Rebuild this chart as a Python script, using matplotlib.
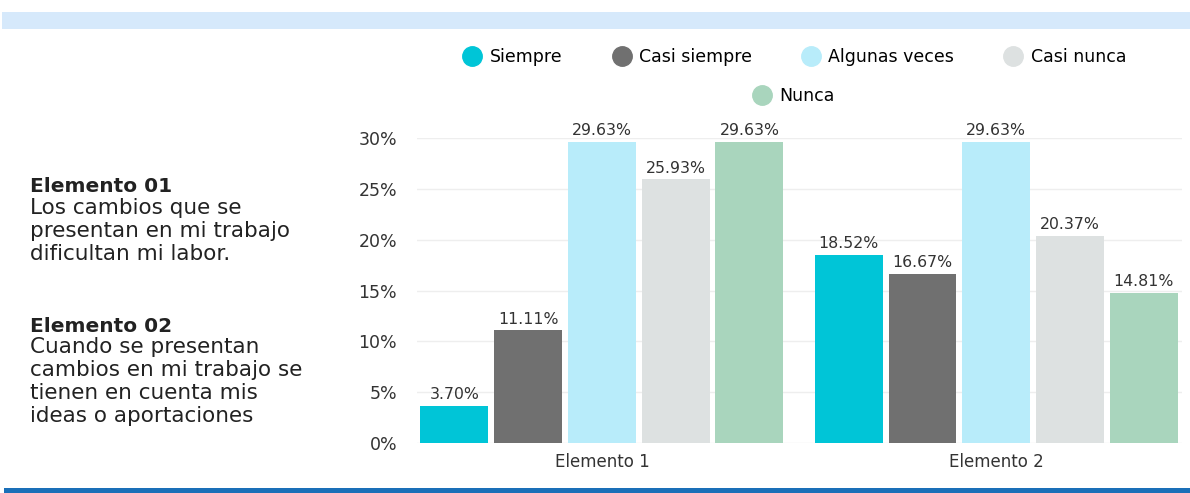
import matplotlib.pyplot as plt
import numpy as np
from matplotlib.lines import Line2D
from matplotlib.patches import Rectangle

# Datos
grupos = ["Elemento 1", "Elemento 2"]
series = ["Siempre", "Casi siempre", "Algunas veces", "Casi nunca", "Nunca"]
siempre = [3.70, 18.52]
casi_siempre = [11.11, 16.67]
algunas_veces = [29.63, 29.63]
casi_nunca = [25.93, 20.37]
nunca = [29.63, 14.81]
valores = [siempre, casi_siempre, algunas_veces, casi_nunca, nunca]
colores = ["#00c5d7", "#707070", "#b8ecfa", "#dde1e1", "#a9d5bd"]
yticks = [0, 5, 10, 15, 20, 25, 30]

titulo_1 = "Elemento 01"
texto_1 = ["Los cambios que se", "presentan en mi trabajo", "dificultan mi labor."]
titulo_2 = "Elemento 02"
texto_2 = ["Cuando se presentan", "cambios en mi trabajo se", "tienen en cuenta mis", "ideas o aportaciones"]

plt.rcParams['font.family'] = ['DejaVu Sans']

fig = plt.figure(figsize=(11.9, 4.93), dpi=100)
ax = fig.add_axes([0.350, 0.101, 0.643, 0.619])

x = np.arange(len(grupos))
slot = 0.187
ancho = slot * 0.92
for i, (vals, col) in enumerate(zip(valores, colores)):
    pos = x + (i - 2) * slot
    ax.bar(pos, vals, width=ancho, color=col, zorder=3)
    for px, v in zip(pos, vals):
        ax.text(px, v + 0.35, f"{v:.2f}%", ha='center', va='bottom',
                fontsize=11.3, color='#333333', clip_on=False)

ax.set_xlim(-0.47, 1.47)
ax.set_ylim(0, 30)
ax.set_yticks(yticks)
ax.set_yticklabels([f"{t}%" for t in yticks], fontsize=12.5, color='#333333')
ax.set_xticks(x)
ax.set_xticklabels(grupos, fontsize=12, color='#333333')
ax.tick_params(length=0, pad=14)
ax.tick_params(axis='x', pad=7)
ax.grid(axis='y', color='#eeeeee', linewidth=1, zorder=0)
for s in ax.spines.values():
    s.set_visible(False)

# Leyenda en dos filas
handles = [Line2D([], [], marker='o', linestyle='', markersize=14,
                  markerfacecolor=c, markeredgecolor=c) for c in colores]
fig.legend(handles[:4], series[:4], loc='center', bbox_to_anchor=(0.668, 0.884),
           ncol=4, frameon=False, fontsize=12.5, handlelength=1.0,
           handletextpad=0.5, columnspacing=2.9)
fig.legend(handles[4:], series[4:], loc='center', bbox_to_anchor=(0.667, 0.805),
           frameon=False, fontsize=12.5, handlelength=1.0, handletextpad=0.5)

# Texto lateral
def bloque(titulo, lineas, y0):
    fig.text(0.025, y0, titulo, fontsize=14.5, fontweight='bold',
             color='#222222', va='center')
    for k, linea in enumerate(lineas):
        fig.text(0.025, y0 - 0.043 - k * 0.0465, linea, fontsize=15.5,
                 color='#222222', va='center')

bloque(titulo_1, texto_1, 1 - 187 / 493)
bloque(titulo_2, texto_2, 1 - 326 / 493)

# Bandas superior e inferior
fig.patches.append(Rectangle((0.002, 0.941), 0.998, 0.035, transform=fig.transFigure,
                             facecolor='#d6e9fb', edgecolor='none'))
fig.patches.append(Rectangle((0.003, 0.0), 0.997, 0.011, transform=fig.transFigure,
                             facecolor='#1a6fb8', edgecolor='none'))

fig.savefig("out.png", dpi=100)
